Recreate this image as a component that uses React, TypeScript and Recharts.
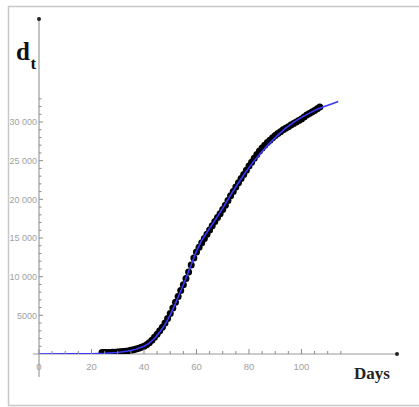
import React from "react";
import {
  ComposedChart,
  Scatter,
  XAxis,
  YAxis,
  ReferenceLine,
  ReferenceDot,
} from "recharts";

// Observed cumulative values (black dots)
const obsDays = [
  24, 25, 26, 27, 28, 29, 30, 31, 32, 33, 34, 35, 36, 37, 38, 39, 40, 41, 42, 43,
  44, 45, 46, 47, 48, 49, 50, 51, 52, 53, 54, 55, 56, 57, 58, 59, 60, 61, 62, 63,
  64, 65, 66, 67, 68, 69, 70, 71, 72, 73, 74, 75, 76, 77, 78, 79, 80, 81, 82, 83,
  84, 85, 86, 87, 88, 89, 90, 91, 92, 93, 94, 95, 96, 97, 98, 99, 100, 101, 102, 103,
  104, 105, 106, 107,
];
const obsValues = [
  180, 190, 200, 210, 220, 240, 260, 280, 310, 350, 400, 470, 550, 640, 740, 860, 1000, 1180, 1450, 1780,
  2150, 2560, 3000, 3450, 4000, 4600, 5250, 5950, 6700, 7450, 8200, 8950, 9750, 10600, 11500, 12400, 13200, 13800, 14400, 14950,
  15500, 16050, 16600, 17150, 17650, 18150, 18700, 19250, 19850, 20450, 21000, 21600, 22150, 22700, 23200, 23750, 24300, 24800, 25300, 25800,
  26250, 26650, 27000, 27350, 27650, 27950, 28250, 28500, 28750, 29000, 29200, 29400, 29600, 29800, 30000, 30200, 30400, 30650, 30900, 31100,
  31300, 31500, 31700, 31950,
];

// Fitted curve (blue line)
const fitDays = [
  0, 10, 20, 25, 30, 34, 37, 40, 42, 44, 46, 48, 50, 52, 54, 56, 58, 60, 62, 64,
  67, 70, 73, 76, 79, 82, 85, 88, 91, 94, 97, 100, 103, 106, 109, 112, 114,
];
const fitValues = [
  0, 10, 40, 90, 200, 380, 620, 1000, 1400, 2000, 2850, 3800, 5050, 6550, 8150, 9800, 11550, 13300, 14700, 15750,
  17250, 18850, 20550, 22150, 23650, 25000, 26200, 27300, 28300, 29200, 29950, 30600, 31150, 31650, 32050, 32400, 32650,
];

const xTicks = [0, 5, 10, 15, 20, 25, 30, 35, 40, 45, 50, 55, 60, 65, 70, 75, 80, 85, 90, 95, 100, 105, 110, 115];
const xLabelled = [0, 20, 40, 60, 80, 100];
const yTicks = [
  1000, 2000, 3000, 4000, 5000, 6000, 7000, 8000, 9000, 10000, 11000, 12000, 13000, 14000, 15000, 16000,
  17000, 18000, 19000, 20000, 21000, 22000, 23000, 24000, 25000, 26000, 27000, 28000, 29000, 30000, 31000,
  32000, 33000,
];
const yLabelled = [5000, 10000, 15000, 20000, 25000, 30000];

const X_MAX = 136.4;
const Y_MAX = 43320;

const obsData = obsDays.map((d, i) => ({ day: d, v: obsValues[i] }));
const fitData = fitDays.map((d, i) => ({ day: d, v: fitValues[i] }));

const TICK_COLOR = "#8a8a8a";
const LABEL_COLOR = "#a0a0a0";
const TICK_FONT = "'Liberation Sans', Arial, sans-serif";

const fmtY = (v: number) => (v >= 10000 ? `${Math.floor(v / 1000)} 000` : String(v));

const XTick = (props: any) => {
  const { x, y, payload } = props;
  const major = xLabelled.includes(payload.value);
  return (
    <g>
      <line x1={x} y1={y} x2={x} y2={y - (major ? 5 : 3)} stroke={TICK_COLOR} strokeWidth={1} />
      {major && (
        <text
          x={x}
          y={y + 16}
          textAnchor="middle"
          fontSize={9.5}
          fill={LABEL_COLOR}
          fontFamily={TICK_FONT}
        >
          {payload.value}
        </text>
      )}
    </g>
  );
};

const YTick = (props: any) => {
  const { x, y, payload } = props;
  const major = yLabelled.includes(payload.value);
  return (
    <g>
      <line x1={x} y1={y} x2={x + (major ? 4 : 2.5)} y2={y} stroke={TICK_COLOR} strokeWidth={1} />
      {major && (
        <text
          x={x - 2}
          y={y + 3.3}
          textAnchor="end"
          fontSize={9}
          fill={LABEL_COLOR}
          fontFamily={TICK_FONT}
        >
          {fmtY(payload.value)}
        </text>
      )}
    </g>
  );
};

const Dot = (props: any) => {
  const { cx, cy } = props;
  return <circle cx={cx} cy={cy} r={3.5} fill="#000" />;
};

const NoShape = () => null;

export default function App() {
  return (
    <div style={{ position: "absolute", left: 0, top: 0, width: 419, height: 407, background: "#fff" }}>
      <ComposedChart
        width={419}
        height={407}
        margin={{ top: 19, right: 22, bottom: 33, left: 0 }}
      >
        <XAxis
          type="number"
          dataKey="day"
          domain={[0, X_MAX]}
          ticks={xTicks}
          interval={0}
          tick={<XTick />}
          tickLine={false}
          tickSize={0}
          tickMargin={0}
          height={20}
          axisLine={{ stroke: "#999", strokeWidth: 1 }}
          allowDataOverflow
        />
        <YAxis
          type="number"
          dataKey="v"
          domain={[0, Y_MAX]}
          ticks={yTicks}
          interval={0}
          tick={<YTick />}
          tickLine={false}
          tickSize={0}
          tickMargin={0}
          width={39}
          axisLine={{ stroke: "#888", strokeWidth: 1 }}
          allowDataOverflow
        />
        <ReferenceLine
          segment={[{ x: 0, y: 0 }, { x: 0, y: -2970 }]}
          stroke="#888"
          strokeWidth={1}
          ifOverflow="visible"
        />
        <ReferenceLine
          segment={[{ x: -2.3, y: 0 }, { x: 0, y: 0 }]}
          stroke="#999"
          strokeWidth={1}
          ifOverflow="visible"
        />
        <Scatter
          data={obsData}
          dataKey="v"
          shape={<Dot />}
          isAnimationActive={false}
        />
        <Scatter
          data={fitData}
          dataKey="v"
          shape={<NoShape />}
          line={{ stroke: "#3a3aff", strokeWidth: 1.6 }}
          lineType="joint"
          isAnimationActive={false}
        />
        <ReferenceDot x={X_MAX} y={0} r={2} fill="#222" stroke="none" ifOverflow="visible" />
        <ReferenceDot x={0} y={Y_MAX} r={2} fill="#222" stroke="none" ifOverflow="visible" />
      </ComposedChart>
      <svg
        width={419}
        height={407}
        style={{ position: "absolute", left: 0, top: 0, pointerEvents: "none" }}
      >
        <path d="M 419 6.5 H 8.5 V 405.5 H 419" fill="none" stroke="#c8c8c8" strokeWidth={1.5} />
        <text x={16} y={60} fontSize={25} fontWeight="bold" fontFamily="'Liberation Serif', serif" fill="#111">
          d
        </text>
        <text x={30.5} y={69} fontSize={17} fontWeight="bold" fontFamily="'Liberation Serif', serif" fill="#111">
          t
        </text>
        <text x={354} y={379} fontSize={17} fontWeight="bold" fontFamily="'Liberation Serif', serif" fill="#222">
          Days
        </text>
      </svg>
    </div>
  );
}
